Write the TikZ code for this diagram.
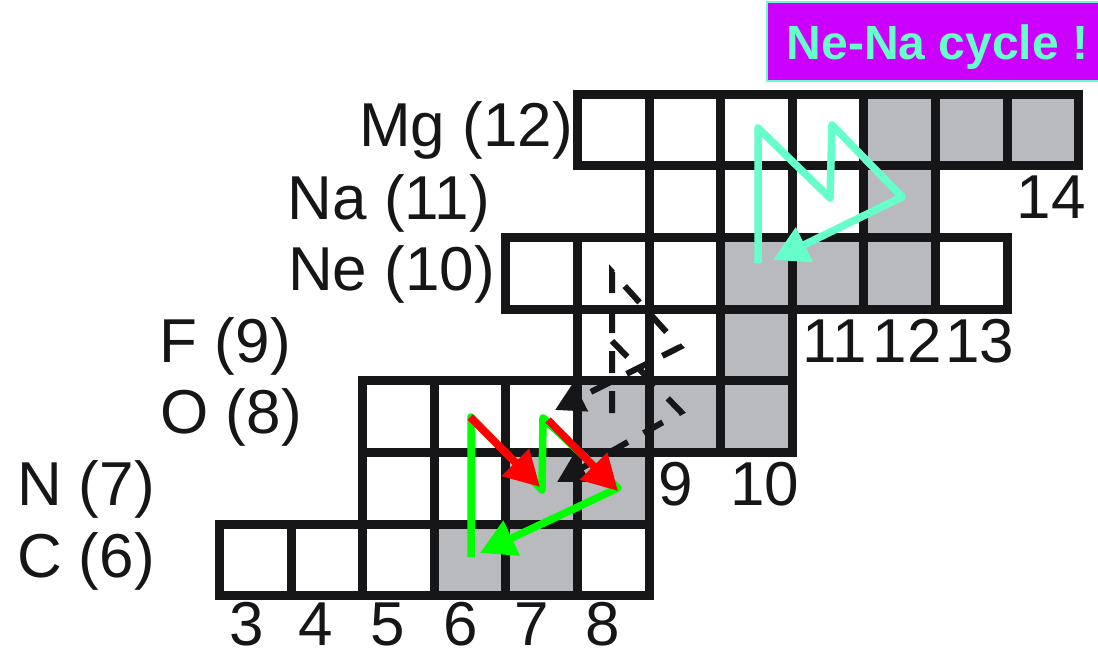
\documentclass[tikz,border=0pt]{standalone}
\usepackage{fontspec}
\setmainfont{Liberation Sans}
\usetikzlibrary{arrows.meta}

\definecolor{cellgray}{RGB}{185,186,190}
\definecolor{ink}{RGB}{22,22,24}
\definecolor{aqua}{RGB}{102,255,204}
\definecolor{violet}{RGB}{204,0,255}
\definecolor{lime}{RGB}{0,255,0}
\definecolor{hot}{RGB}{255,0,0}

\begin{document}
\begin{tikzpicture}[x=1pt,y=-1pt,
  cell/.style={draw=ink,line width=9pt,minimum size=71.6pt,inner sep=0pt,outer sep=0pt,fill=white},
  stable/.style={cell,fill=cellgray},
  num/.style={font=\fontsize{62}{62}\selectfont,text=ink,inner sep=0pt,anchor=base},
  rowlbl/.style={num,anchor=base east},
  flow/.style={line width=7.5pt,line join=round,-{Triangle[length=35pt,width=37pt]}},
  branch/.style={draw=ink,line width=6pt,dash pattern=on 22pt off 18pt,-{Triangle[length=29pt,width=31pt]}}
]
\useasboundingbox (0,0) rectangle (1098,650);
\clip (0,0) rectangle (1098,650);

% nuclide cells: row = proton number, entries = neutron number / style
\foreach \z/\cells in {
  6/{3/cell,4/cell,5/cell,6/stable,7/stable,8/cell},
  7/{5/cell,6/cell,7/stable,8/stable},
  8/{5/cell,6/cell,7/cell,8/stable,9/stable,10/stable},
  9/{8/cell,9/cell,10/stable},
  10/{7/cell,8/cell,9/cell,10/stable,11/stable,12/stable,13/cell},
  11/{9/cell,10/cell,11/cell,12/stable},
  12/{8/cell,9/cell,10/cell,11/cell,12/stable,13/stable,14/stable}}
  \foreach \n/\st in \cells
    \node[\st] (z\z n\n) at ({40.5+71.6*\n},{989.4-71.6*\z}) {};

% element labels
\node[rowlbl] (lMg) at (573,147) {Mg (12)};
\node[rowlbl] (lNa) at (490,219) {Na (11)};
\node[rowlbl] (lNe) at (495,290) {Ne (10)};
\node[rowlbl] (lF)  at (291,362) {F (9)};
\node[rowlbl] (lO)  at (302,433) {O (8)};
\node[rowlbl] (lN)  at (155,505) {N (7)};
\node[rowlbl] (lC)  at (155,577) {C (6)};

% neutron numbers
\foreach \x/\t in {246.7/3,316/4,388/5,461/6,532/7,603/8}
  \node[num] (nb\t) at (\x,645) {\t};
\node[num] (n9)  at (676,505) {9};
\node[num] (n10) at (764.7,505) {10};
\node[num] (n11) at (834.8,362.5) {11};
\node[num] (n12) at (907,362.5) {12};
\node[num] (n13) at (979.7,362.5) {13};
\node[num] (n14) at (1051,218) {14};

% banner
\node[draw=aqua,fill=violet,line width=1.5pt,minimum width=340pt,minimum height=79pt,inner sep=0pt]
  (banner) at (937,41.5) {};
\node[font=\fontsize{48}{48}\selectfont\bfseries,text=aqua,inner sep=0pt,anchor=base]
  (bannertext) at (937.5,60) {Ne-Na cycle !};

% path points
\coordinate (a0) at (612,413); \coordinate (a1) at (612,272);
\coordinate (a2) at (680,347); \coordinate (a3) at (555,410);
\coordinate (b0) at (612,341); \coordinate (b1) at (681,412);
\coordinate (b2) at (557,482);
\coordinate (g0) at (471,557); \coordinate (g1) at (471,417);
\coordinate (g2) at (542,490); \coordinate (g3) at (543,418);
\coordinate (g4) at (618,488); \coordinate (g5) at (480,553);
\coordinate (r1a) at (470,417); \coordinate (r1b) at (540,487);
\coordinate (r2a) at (548,420); \coordinate (r2b) at (618,491);
\coordinate (c0) at (758,263); \coordinate (c1) at (758,128);
\coordinate (c2) at (830,198); \coordinate (c3) at (832,125);
\coordinate (c4) at (902,197); \coordinate (c5) at (773,260);

% O-F side branches
\draw[branch] (a0) -- (a1) -- (a2) -- (a3);
\draw[branch] (b0) -- (b1) -- (b2);

% CN cycle
\draw[flow,draw=lime] (g0) -- (g1) -- (g2) -- (g3) -- (g4) -- (g5);
\draw[flow,draw=hot] (r1a) -- (r1b);
\draw[flow,draw=hot] (r2a) -- (r2b);

% Ne-Na cycle
\draw[flow,draw=aqua] (c0) -- (c1) -- (c2) -- (c3) -- (c4) -- (c5);
\end{tikzpicture}
\end{document}
